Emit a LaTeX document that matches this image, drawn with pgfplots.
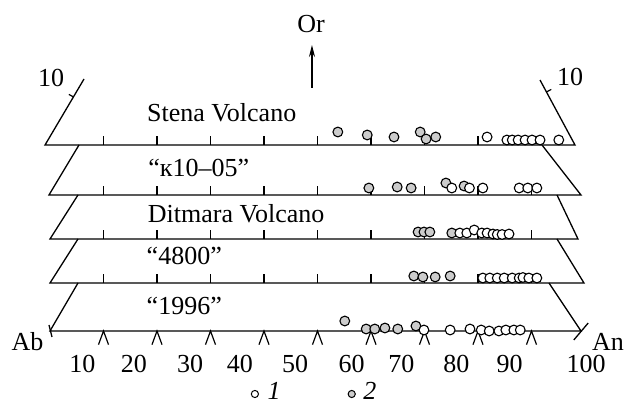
\documentclass[border=0pt]{standalone}
\usepackage{fontspec}
\setmainfont{Liberation Serif}
\usepackage{pgfplots}
\pgfplotsset{compat=1.18}
\usepackage{pgfplotstable}
\usetikzlibrary{arrows.meta}

% Feldspar compositions: An content along each plane, h = rise towards Or
% (1 = open circles, 2 = grey circles)
\pgfplotstableread{
an h
81.7 8
85.4 5
86.4 5
87.5 5
88.8 5
90.1 5
91.6 5
95.1 5
}\stenaW
\pgfplotstableread{
an h
53.8 13
59.3 10
64.3 8
69.2 13
70.3 6
72.1 8
}\stenaG
\pgfplotstableread{
an h
75.1 7
78.4 7
80.9 7
87.7 7
89.3 7
91.0 7
}\kapW
\pgfplotstableread{
an h
59.6 7
64.9 8
67.5 7
74.0 12
77.4 9
}\kapG
\pgfplotstableread{
an h
76.6 6
77.9 6
79.3 9
80.7 6
81.7 6
82.8 5
83.6 4.5
84.5 4.5
85.8 5
}\ditW
\pgfplotstableread{
an h
68.8 7
69.9 7
71.0 7
75.1 6
}\ditG
\pgfplotstableread{
an h
80.9 5
82.2 5
83.6 5
84.9 5
86.4 5
87.7 5
88.4 5.5
89.5 5
91.0 5
}\fourW
\pgfplotstableread{
an h
68.0 7
69.7 6
72.0 6
74.8 7
}\fourG
\pgfplotstableread{
an h
69.9 1
74.8 1
78.5 2
80.6 1
82.1 0
83.9 0
85.2 1
86.7 1
87.9 1
}\lastW
\pgfplotstableread{
an h
55.1 10
59.1 2
60.7 2
62.6 3
65.0 2
68.4 5
}\lastG

\pgfplotsset{
  frame/.style={black, line width=0.65pt, no marks, sharp plot},
  typeI/.style={only marks, mark=*, mark size=2.45pt,
    mark options={draw=black, fill=white, line width=0.55pt}},
  typeII/.style={only marks, mark=*, mark size=2.45pt,
    mark options={draw=black, fill=gray!40, line width=0.55pt}},
}
\tikzset{lbl/.style={font=\fontsize{13bp}{15bp}\selectfont, inner sep=0pt, anchor=base}}

\begin{document}
\begin{tikzpicture}[x=1bp,y=1bp]
\path[use as bounding box] (0,0) rectangle (312,201.5);
\begin{axis}[at={(0,0)}, anchor=south west, scale only axis,
  width=312bp, height=201.5bp,
  xmin=-9.346, xmax=107.29, ymin=0, ymax=403,
  hide axis, clip=false]

% plane outlines (left side, base line, right side)
\addplot[frame] coordinates {(6.36,324) (-0.93,258) (98.13,258) (91.59,323)};
\addplot[frame] coordinates {(5.42,258) (-0.19,208) (99.25,208) (91.96,258)};
\addplot[frame] coordinates {(5.23,208) (0,164) (98.69,164) (94.77,208)};
\addplot[frame] coordinates {(5.23,164) (0,120) (99.81,120) (94.77,164)};
\addplot[frame] coordinates {(5.23,120) (0,72) (99.25,72) (93.27,120)};
% end marks of the Ab--An join
\addplot[frame] coordinates {(-0.19,78) (0.37,66)};
\addplot[frame] coordinates {(97.9,63) (100.6,80)};

% scale ticks on the plane bases
\pgfplotsinvokeforeach{10,20,30,40,50,60,70,80,90}{
  \draw[line width=0.6pt] (axis cs:#1,258) -- ++(0bp,4.3bp);
  \draw[line width=0.6pt] (axis cs:#1,208) -- ++(0bp,4.3bp);
  \draw[line width=0.6pt] (axis cs:#1,164) -- ++(0bp,4.3bp);
  \draw[line width=0.6pt] (axis cs:#1,120) -- ++(0bp,4.3bp);
  \draw[line width=0.6pt] ([xshift=-2.5bp,yshift=-6.8bp]axis cs:#1,72)
     -- (axis cs:#1,72) -- ([xshift=2.5bp,yshift=-6.8bp]axis cs:#1,72);
}
% Or = 10 marks on the upper plane
\draw[line width=0.6pt] (axis cs:4.39,306) -- ++(-2.3bp,1.3bp);
\draw[line width=0.6pt] (axis cs:92.8,311) -- ++(2.4bp,1.3bp);
\draw[line width=0.6pt, -{Stealth[length=6bp,width=3bp]}] (axis cs:48.97,315) -- (axis cs:48.97,358);

% compositions
\addplot[typeII] table[x=an, y expr=\thisrow{h}+258] {\stenaG};
\addplot[typeI]  table[x=an, y expr=\thisrow{h}+258] {\stenaW};
\addplot[typeII] table[x=an, y expr=\thisrow{h}+208] {\kapG};
\addplot[typeI]  table[x=an, y expr=\thisrow{h}+208] {\kapW};
\addplot[typeII] table[x=an, y expr=\thisrow{h}+164] {\ditG};
\addplot[typeI]  table[x=an, y expr=\thisrow{h}+164] {\ditW};
\addplot[typeII] table[x=an, y expr=\thisrow{h}+120] {\fourG};
\addplot[typeI]  table[x=an, y expr=\thisrow{h}+120] {\fourW};
\addplot[typeII] table[x=an, y expr=\thisrow{h}+72] {\lastG};
\addplot[typeI]  table[x=an, y expr=\thisrow{h}+72] {\lastW};

% key
\addplot[only marks, mark=*, mark size=1.8pt, mark options={draw=black, fill=white, line width=0.5pt}] coordinates {(38.3,9)};
\addplot[only marks, mark=*, mark size=1.8pt, mark options={draw=black, fill=gray!40, line width=0.5pt}] coordinates {(56.4,9)};
\node[lbl] at (axis cs:41.9,4) {\textit{1}};
\node[lbl] at (axis cs:59.8,4) {\textit{2}};

% labels
\node[lbl] at (axis cs:48.8,370) {Or};
\node[lbl] at (axis cs:0.19,316) {10};
\node[lbl] at (axis cs:97.2,317) {10};
\node[lbl] at (axis cs:32.1,281) {Stena Volcano};
\node[lbl] at (axis cs:27.8,226) {“к10–05”};
\node[lbl] at (axis cs:34.8,180) {Ditmara Volcano};
\node[lbl] at (axis cs:25.1,138) {“4800”};
\node[lbl] at (axis cs:25.1,88) {“1996”};
\node[lbl] at (axis cs:-4.2,53) {Ab};
\node[lbl] at (axis cs:104.3,53) {An};
\node[lbl] at (axis cs:6.07,31) {10};
\node[lbl] at (axis cs:15.7,31) {20};
\node[lbl] at (axis cs:26.2,31) {30};
\node[lbl] at (axis cs:35.5,31) {40};
\node[lbl] at (axis cs:45.8,31) {50};
\node[lbl] at (axis cs:56.4,31) {60};
\node[lbl] at (axis cs:65.7,31) {70};
\node[lbl] at (axis cs:75.98,31) {80};
\node[lbl] at (axis cs:85.9,31) {90};
\node[lbl] at (axis cs:100.2,31) {100};
\end{axis}
\end{tikzpicture}
\end{document}
